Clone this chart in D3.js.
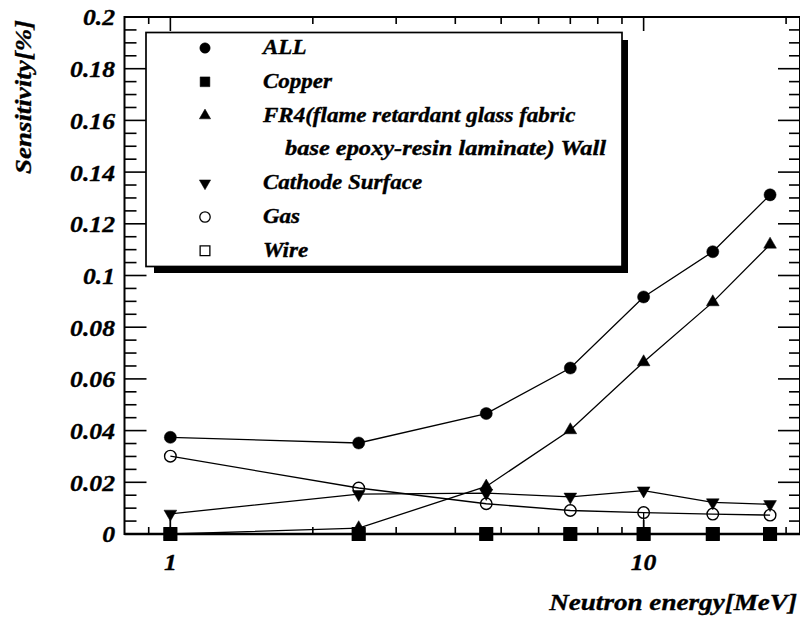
<!DOCTYPE html>
<html>
<head>
<meta charset="utf-8">
<script src="https://cdn.jsdelivr.net/npm/d3@7"></script>
<style>
  html, body { margin: 0; padding: 0; background: #fff; }
  svg { display: block; }
</style>
</head>
<body>
<svg id="chart" width="800" height="620"></svg>
<script>
// Neutron energies (MeV) at which the sensitivity was evaluated
const energies = [1, 2.5, 4.65, 7, 10, 14, 18.5];

// Sensitivity [%] per component
const allValues     = [0.0374, 0.0352, 0.0466, 0.0642, 0.0917, 0.1092, 0.1312];
const copperValues  = [0, 0, 0, 0, 0, 0, 0];
const fr4Values     = [0, 0.0023, 0.0184, 0.0402, 0.0665, 0.0897, 0.1120];
const cathodeValues = [0.0078, 0.0154, 0.0158, 0.0144, 0.0168, 0.0122, 0.0115];
const gasValues     = [0.0301, 0.0178, 0.0117, 0.0091, 0.0083, 0.0077, 0.0073];
const wireValues    = [0, 0, 0, 0, 0, 0, 0];

// Error bars drawn on a few points: [energy, low, high]
const cathodeErrors = [[1, 0.0, 0.0078]];
const gasErrors     = [[10, 0.0, 0.0083]];
const fr4Errors     = [[4.65, 0.0165, 0.0205]];

// Axis ticks
const yMajorTicks = [0, 0.02, 0.04, 0.06, 0.08, 0.1, 0.12, 0.14, 0.16, 0.18, 0.2];
const yTickLabels = ["0", "0.02", "0.04", "0.06", "0.08", "0.1", "0.12", "0.14", "0.16", "0.18", "0.2"];
const xMajorTicks = [1, 10];
const xTickLabels = ["1", "10"];
const xMinorTicks = [0.9, 2, 3, 4, 5, 6, 7, 8, 9, 20];

const legendLabels = ["ALL", "Copper", "FR4(flame retardant glass fabric", "Cathode Surface", "Gas", "Wire"];
const legendSecondLine = "base epoxy-resin laminate) Wall";

const svg = d3.select("#chart");
const plotLeft = 124.5, plotRight = 800, plotTop = 17, plotBottom = 534;

const x = d3.scaleLog().domain([0.8, 21.4]).range([plotLeft, plotRight]);
const y = d3.scaleLinear().domain([0, 0.2]).range([plotBottom, plotTop]);

// Heavy bold italic serif text; the face is drawn slightly wide
function label(parent, str, size, stretch) {
  const t = parent.append("text")
    .style("font-family", "'Liberation Serif', 'Times New Roman', Times, serif")
    .style("font-weight", "bold")
    .style("font-style", "italic")
    .style("font-size", size + "px")
    .attr("fill", "#000")
    .attr("stroke", "#000")
    .attr("stroke-width", 0.35)
    .text(str);
  if (stretch && stretch !== 1) {
    const w = t.node().getComputedTextLength();
    t.attr("textLength", w * stretch).attr("lengthAdjust", "spacingAndGlyphs");
  }
  return t;
}

// Series description: values, marker shape, filled or open
const series = [
  { name: "ALL", values: allValues, shape: d3.symbolCircle, size: 115, filled: true, errors: [] },
  { name: "Wire", values: wireValues, shape: d3.symbolSquare, size: 160, filled: false, errors: [] },
  { name: "Copper", values: copperValues, shape: d3.symbolSquare, size: 160, filled: true, errors: [] },
  { name: "FR4", values: fr4Values, shape: d3.symbolTriangle, size: 70, filled: true, errors: fr4Errors },
  { name: "Cathode", values: cathodeValues, shape: d3.symbolTriangle, size: 70, filled: true, flip: true, errors: cathodeErrors },
  { name: "Gas", values: gasValues, shape: d3.symbolCircle, size: 105, filled: false, errors: gasErrors }
];

// Connecting lines
const line = d3.line().x(d => x(d[0])).y(d => y(d[1]));
series.forEach(s => {
  svg.append("path")
    .datum(energies.map((e, i) => [e, s.values[i]]))
    .attr("d", line)
    .attr("fill", "none")
    .attr("stroke", "#000")
    .attr("stroke-width", 1.3);
});

// Error bars
series.forEach(s => {
  svg.selectAll(null).data(s.errors).enter().append("line")
    .attr("x1", d => x(d[0])).attr("x2", d => x(d[0]))
    .attr("y1", d => y(d[1])).attr("y2", d => y(d[2]))
    .attr("stroke", "#000").attr("stroke-width", 1.3);
});

// Markers
series.forEach(s => {
  const sym = d3.symbol().type(s.shape).size(s.size);
  svg.selectAll(null)
    .data(energies.map((e, i) => [e, s.values[i]]))
    .enter().append("path")
    .attr("d", sym)
    .attr("transform", d => `translate(${x(d[0])},${y(d[1])})${s.flip ? " rotate(180)" : ""}`)
    .attr("fill", s.filled ? "#000" : "none")
    .attr("stroke", "#000")
    .attr("stroke-width", s.filled ? 0.5 : 1.4);
});

// Frame
svg.append("rect")
  .attr("x", plotLeft).attr("y", plotTop)
  .attr("width", plotRight - plotLeft).attr("height", plotBottom - plotTop)
  .attr("fill", "none").attr("stroke", "#000").attr("stroke-width", 2);
svg.append("line")
  .attr("x1", plotLeft).attr("x2", plotRight).attr("y1", plotBottom).attr("y2", plotBottom)
  .attr("stroke", "#000").attr("stroke-width", 2.6);

// Y ticks (major + minor) on left and right, pointing inwards
const yMinor = d3.range(0, 0.2001, 0.005).filter(v => Math.abs(v / 0.02 - Math.round(v / 0.02)) > 1e-6);
const yTickG = svg.append("g").attr("stroke", "#000").attr("stroke-width", 1.6);
yMajorTicks.forEach(v => {
  yTickG.append("line").attr("x1", plotLeft).attr("x2", plotLeft + 22).attr("y1", y(v)).attr("y2", y(v));
  yTickG.append("line").attr("x1", plotRight).attr("x2", plotRight - 22).attr("y1", y(v)).attr("y2", y(v));
});
yMinor.forEach(v => {
  yTickG.append("line").attr("x1", plotLeft).attr("x2", plotLeft + 12).attr("y1", y(v)).attr("y2", y(v));
  yTickG.append("line").attr("x1", plotRight).attr("x2", plotRight - 11).attr("y1", y(v)).attr("y2", y(v));
});

// X ticks on bottom and top
const xTickG = svg.append("g").attr("stroke", "#000").attr("stroke-width", 1.6);
xMajorTicks.forEach(v => {
  xTickG.append("line").attr("x1", x(v)).attr("x2", x(v)).attr("y1", plotBottom).attr("y2", plotBottom - 14);
  xTickG.append("line").attr("x1", x(v)).attr("x2", x(v)).attr("y1", plotTop).attr("y2", plotTop + 14);
});
xMinorTicks.forEach(v => {
  xTickG.append("line").attr("x1", x(v)).attr("x2", x(v)).attr("y1", plotBottom).attr("y2", plotBottom - 7);
  xTickG.append("line").attr("x1", x(v)).attr("x2", x(v)).attr("y1", plotTop).attr("y2", plotTop + 7);
});

// Copper markers sit on the bottom axis; keep them above the axis line
svg.selectAll(null)
  .data(energies.map((e, i) => [e, copperValues[i]]))
  .enter().append("path")
  .attr("d", d3.symbol().type(d3.symbolSquare).size(160))
  .attr("transform", d => `translate(${x(d[0])},${y(d[1])})`)
  .attr("fill", "#000");

// Tick labels
yMajorTicks.forEach((v, i) => {
  label(svg, yTickLabels[i], 24, 1.07)
    .attr("x", 115).attr("y", y(v)).attr("dy", "0.35em").attr("text-anchor", "end");
});
xMajorTicks.forEach((v, i) => {
  label(svg, xTickLabels[i], 24, 1.07)
    .attr("x", x(v)).attr("y", 570).attr("text-anchor", "middle");
});

// Axis titles
label(svg, "Neutron energy[MeV]", 24, 1.13)
  .attr("x", 797).attr("y", 610).attr("text-anchor", "end");
label(svg, "Sensitivity[%]", 23, 1.17)
  .attr("transform", "translate(31,20) rotate(-90)")
  .attr("text-anchor", "end");

// Legend with drop shadow
const lg = svg.append("g");
lg.append("rect").attr("x", 154).attr("y", 40).attr("width", 474).attr("height", 233).attr("fill", "#000");
lg.append("rect").attr("x", 146).attr("y", 32.5).attr("width", 476).attr("height", 234)
  .attr("fill", "#fff").attr("stroke", "#000").attr("stroke-width", 1.7);

const legendRows = [
  { label: legendLabels[0], shape: d3.symbolCircle, filled: true, row: 0 },
  { label: legendLabels[1], shape: d3.symbolSquare, filled: true, row: 1 },
  { label: legendLabels[2], shape: d3.symbolTriangle, filled: true, row: 2 },
  { label: legendLabels[3], shape: d3.symbolTriangle, filled: true, flip: true, row: 4 },
  { label: legendLabels[4], shape: d3.symbolCircle, filled: false, row: 5 },
  { label: legendLabels[5], shape: d3.symbolSquare, filled: false, row: 6 }
];
const rowBase = r => 54 + r * 33.8;
legendRows.forEach(r => {
  const size = r.shape === d3.symbolSquare ? 95 : (r.shape === d3.symbolCircle ? 85 : 55);
  lg.append("path")
    .attr("d", d3.symbol().type(r.shape).size(size))
    .attr("transform", `translate(205,${rowBase(r.row) - 6})${r.flip ? " rotate(180)" : ""}`)
    .attr("fill", r.filled ? "#000" : "none")
    .attr("stroke", "#000").attr("stroke-width", r.filled ? 0.5 : 1.3);
  label(lg, r.label, 20, 1.15).attr("x", 263).attr("y", rowBase(r.row));
});
label(lg, legendSecondLine, 20, 1.22).attr("x", 285).attr("y", rowBase(3));
</script>
</body>
</html>
